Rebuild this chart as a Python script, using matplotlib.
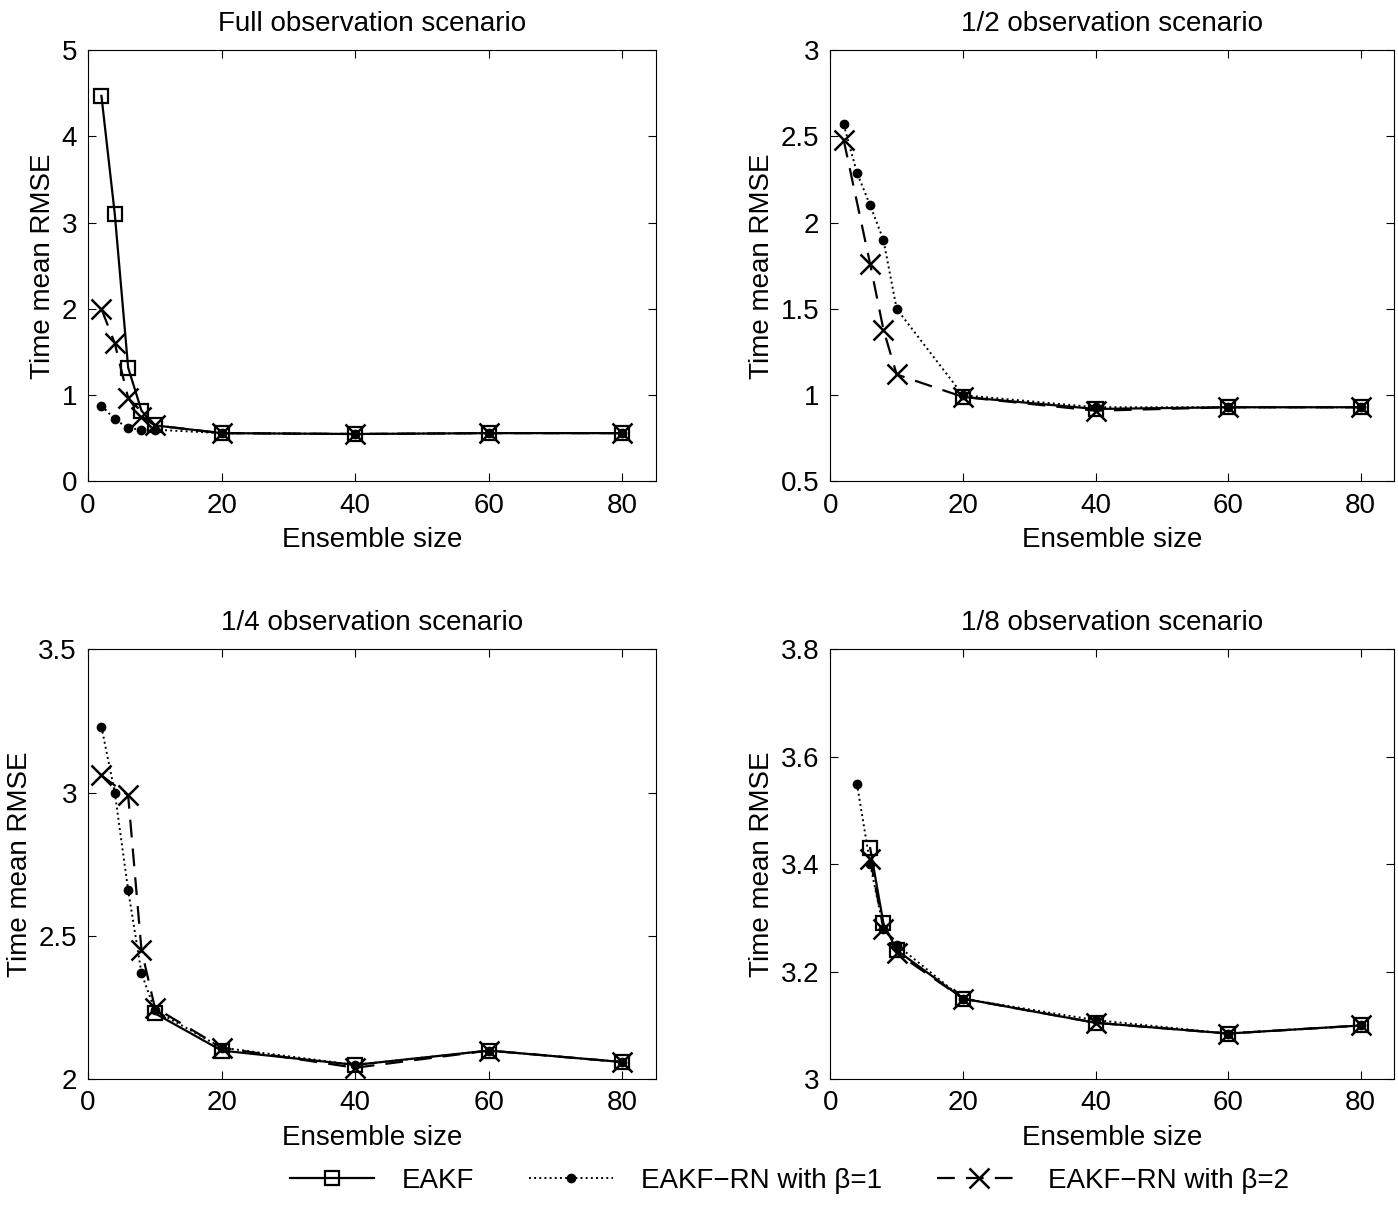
import numpy as np
import matplotlib
matplotlib.use("Agg")
import matplotlib.pyplot as plt
from matplotlib.lines import Line2D

plt.rcParams['font.family'] = ['Liberation Sans', 'DejaVu Sans']
plt.rcParams['font.size'] = 20

titles = ["Full observation scenario", "1/2 observation scenario",
          "1/4 observation scenario", "1/8 observation scenario"]

eakf_x = [[2, 4, 6, 8, 10, 20, 40, 60, 80], [20, 40, 60, 80],
          [10, 20, 40, 60, 80], [6, 8, 10, 20, 40, 60, 80]]
eakf_y = [[4.47, 3.10, 1.32, 0.82, 0.65, 0.56, 0.55, 0.56, 0.56],
          [0.99, 0.92, 0.93, 0.93],
          [2.23, 2.10, 2.05, 2.10, 2.06],
          [3.43, 3.29, 3.24, 3.15, 3.105, 3.085, 3.10]]
rn1_x = [[2, 4, 6, 8, 10, 20, 40, 60, 80], [2, 4, 6, 8, 10, 20, 40, 60, 80],
         [2, 4, 6, 8, 10, 20, 40, 60, 80], [4, 6, 8, 10, 20, 40, 60, 80]]
rn1_y = [[0.88, 0.72, 0.62, 0.60, 0.60, 0.56, 0.55, 0.56, 0.56],
         [2.57, 2.29, 2.10, 1.90, 1.50, 1.00, 0.93, 0.93, 0.93],
         [3.23, 3.00, 2.66, 2.37, 2.24, 2.11, 2.05, 2.10, 2.06],
         [3.55, 3.40, 3.28, 3.25, 3.15, 3.11, 3.085, 3.10]]
rn2_x = [[2, 4, 6, 8, 10, 20, 40, 60, 80], [2, 6, 8, 10, 20, 40, 60, 80],
         [2, 6, 8, 10, 20, 40, 60, 80], [6, 8, 10, 20, 40, 60, 80]]
rn2_y = [[2.00, 1.60, 0.97, 0.75, 0.65, 0.56, 0.55, 0.56, 0.56],
         [2.48, 1.76, 1.38, 1.12, 0.99, 0.91, 0.93, 0.93],
         [3.06, 2.99, 2.45, 2.25, 2.11, 2.04, 2.10, 2.06],
         [3.41, 3.28, 3.235, 3.15, 3.105, 3.085, 3.10]]

ylims = [(0, 5), (0.5, 3), (2, 3.5), (3, 3.8)]
yticks = [np.arange(0, 5.01, 1), np.arange(0.5, 3.01, 0.5),
          np.arange(2, 3.51, 0.5), np.arange(3, 3.81, 0.2)]

fig = plt.figure(figsize=(13.98, 12.25), dpi=100)
pos = [[0.063, 0.607, 0.406, 0.352], [0.594, 0.607, 0.403, 0.352],
       [0.063, 0.119, 0.406, 0.351], [0.594, 0.119, 0.403, 0.351]]
for i in range(4):
    ax = fig.add_axes(pos[i])
    ax.plot(eakf_x[i], eakf_y[i], '-', color='k', lw=1.6, marker='s',
            ms=10, mfc='none', mew=1.6)
    ax.plot(rn1_x[i], rn1_y[i], ':', color='k', lw=1.4, marker='o', ms=6)
    ax.plot(rn2_x[i], rn2_y[i], '--', color='k', lw=1.6, marker='x',
            ms=15, mew=1.8, dashes=(8, 5))
    ax.set_xlim(0, 85)
    ax.set_xticks([0, 20, 40, 60, 80])
    ax.set_ylim(*ylims[i])
    ax.set_yticks(yticks[i])
    ax.set_yticklabels(["{:g}".format(round(v, 2)) for v in yticks[i]])
    ax.tick_params(direction='in', length=6, top=True, right=True, pad=8)
    ax.set_title(titles[i], fontsize=20, pad=14)
    ax.set_xlabel("Ensemble size", fontsize=20, labelpad=6)
    ax.set_ylabel("Time mean RMSE", fontsize=20)

handles = [Line2D([], [], color='k', ls='-', lw=1.6, marker='s', ms=10, mfc='none', mew=1.6),
           Line2D([], [], color='k', ls=':', lw=1.4, marker='o', ms=6),
           Line2D([], [], color='k', ls='--', lw=1.6, marker='x', ms=15, mew=1.8, dashes=(8, 5))]
fig.legend(handles, ["EAKF", "EAKF\u2212RN with \u03b2=1", "EAKF\u2212RN with \u03b2=2"],
           loc='center', bbox_to_anchor=(0.565, 0.036), ncol=3, frameon=False,
           fontsize=20, handlelength=3, columnspacing=2, handletextpad=1)
fig.savefig("out.png", dpi=100)
